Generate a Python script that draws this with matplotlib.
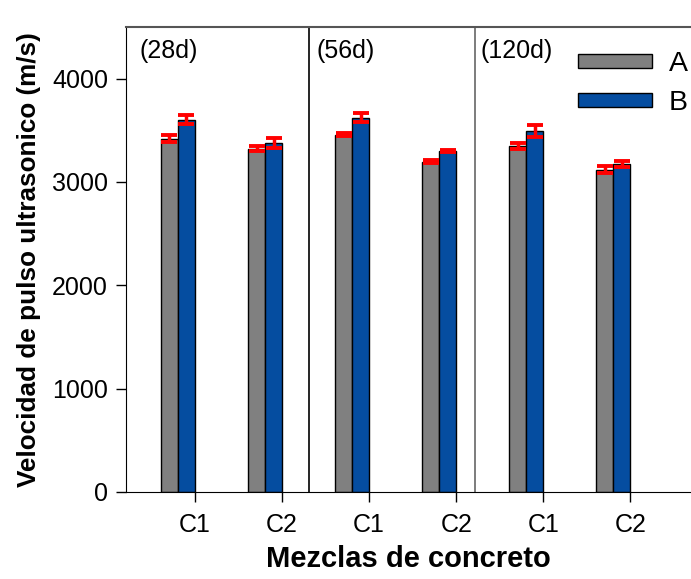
import numpy as np
import matplotlib
matplotlib.use('Agg')
import matplotlib.pyplot as plt
from matplotlib.patches import Patch

plt.rcParams['font.family'] = ['Liberation Sans', 'DejaVu Sans']

# Velocidad de pulso ultrasonico por mezcla y edad (28d, 56d, 120d)
labels = ["C1", "C2", "C1", "C2", "C1", "C2"]
ages = ["(28d)", "(56d)", "(120d)"]
vel_a = [3420, 3322, 3458, 3196, 3351, 3119]
err_a = [35, 25, 15, 12, 27, 36]
vel_b = [3603, 3380, 3622, 3303, 3496, 3177]
err_b = [45, 48, 43, 10, 58, 30]

fig = plt.figure(figsize=(6.91, 5.79), dpi=100)
ax = fig.add_axes([0.1823, 0.1503, 0.8177, 0.8031])

x = np.arange(len(labels))
w = 0.195
gris = "#808080"
azul = "#054DA0"

ax.bar(x - 1.5 * w, vel_a, w, color=gris, edgecolor="black", linewidth=1, zorder=2)
ax.bar(x - 0.5 * w, vel_b, w, color=azul, edgecolor="black", linewidth=1, zorder=2)
ax.errorbar(x - 1.5 * w, vel_a, yerr=err_a, fmt="none", ecolor="red",
            elinewidth=2.5, capsize=6, capthick=2.8, zorder=3)
ax.errorbar(x - 0.5 * w, vel_b, yerr=err_b, fmt="none", ecolor="red",
            elinewidth=2.5, capsize=6, capthick=2.8, zorder=3)

# separadores entre edades
ax.axvline(1.31, color="black", linewidth=1.2, zorder=1)
ax.axvline(3.215, color="#666666", linewidth=1.2, zorder=1)

for xp, txt in zip([-0.64, 1.39, 3.28], ages):
    ax.text(xp, 4270, txt, fontsize=18, va="center", ha="left")

ax.set_xlim(-0.792, 5.695)
ax.set_ylim(0, 4500)
ax.set_xticks(x)
ax.set_xticklabels(labels)
ax.set_yticks([0, 1000, 2000, 3000, 4000])
ax.tick_params(axis="both", direction="out", length=7, width=1, labelsize=18, pad=6)
ax.tick_params(axis="x", pad=8)

ax.spines["right"].set_visible(False)
ax.spines["top"].set_color("#555555")
ax.spines["top"].set_linewidth(1.5)

ax.set_xlabel("Mezclas de concreto", fontsize=21, fontweight="bold", labelpad=6)
ax.set_ylabel("Velocidad de pulso ultrasonico (m/s)", fontsize=18.8, fontweight="bold", labelpad=8)

handles = [Patch(facecolor=gris, edgecolor="black"), Patch(facecolor=azul, edgecolor="black")]
ax.legend(handles, ["A", "B"], fontsize=20.5, frameon=False, loc="upper right",
          bbox_to_anchor=(1.025, 0.985), handlelength=2.6, handleheight=0.38,
          handletextpad=0.6, labelspacing=0.45, borderaxespad=0.2)

fig.savefig("out.png", dpi=100)
